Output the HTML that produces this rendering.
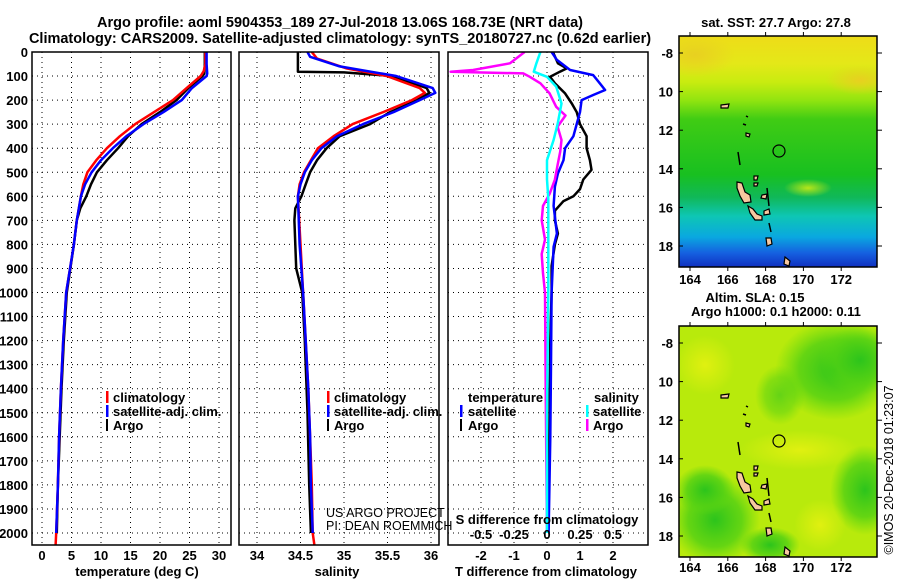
<!DOCTYPE html>
<html><head><meta charset="utf-8">
<style>
html,body{margin:0;padding:0;background:#fff;}
svg{display:block;font-family:"Liberation Sans",sans-serif;}
.lab{font-size:13px;font-weight:bold;fill:#000;}
.ttl{font-size:14.5px;font-weight:bold;fill:#000;}
.grid{stroke:#000;stroke-width:1;stroke-dasharray:1,4;fill:none;}
</style></head>
<body>
<svg id="fig" width="900" height="580" viewBox="0 0 900 580" xmlns="http://www.w3.org/2000/svg">
<defs>
<linearGradient id="sstGrad" x1="0" y1="0" x2="0" y2="1">
<stop offset="0" stop-color="#eedc18"/><stop offset="0.12" stop-color="#e4e818"/>
<stop offset="0.2" stop-color="#c8ec10"/><stop offset="0.28" stop-color="#90e410"/>
<stop offset="0.36" stop-color="#40cc14"/><stop offset="0.6" stop-color="#18c020"/>
<stop offset="0.7" stop-color="#10b85a"/><stop offset="0.78" stop-color="#0ec6b4"/>
<stop offset="0.87" stop-color="#0aa8e0"/><stop offset="0.94" stop-color="#1560e0"/>
<stop offset="1" stop-color="#1030c0"/></linearGradient>
<radialGradient id="yb"><stop offset="0" stop-color="#e0f010"/><stop offset="1" stop-color="#e0f010" stop-opacity="0"/></radialGradient>
<radialGradient id="gb"><stop offset="0" stop-color="#2cc41c"/><stop offset="0.6" stop-color="#50d014" stop-opacity="0.8"/><stop offset="1" stop-color="#60d810" stop-opacity="0"/></radialGradient>
<radialGradient id="ob"><stop offset="0" stop-color="#e8d020"/><stop offset="1" stop-color="#e8d020" stop-opacity="0"/></radialGradient>
<clipPath id="clipTop"><rect x="679" y="36" width="198" height="231"/></clipPath>
<clipPath id="clipBot"><rect x="679" y="326" width="198" height="231"/></clipPath>
<clipPath id="clipT"><rect x="32" y="52" width="199" height="493"/></clipPath>
<clipPath id="clipS"><rect x="239" y="52" width="200" height="493"/></clipPath>
<clipPath id="clipD"><rect x="448" y="52" width="200" height="493"/></clipPath>
</defs>

<text class="ttl" x="340" y="27" text-anchor="middle">Argo profile: aoml 5904353_189 27-Jul-2018 13.06S 168.73E (NRT data)</text>
<text class="ttl" x="340" y="43" text-anchor="middle">Climatology: CARS2009. Satellite-adjusted climatology: synTS_20180727.nc (0.62d earlier)</text>

<g id="gT"></g>
<g id="gS"></g>
<g id="gD"></g>

<g class="lab">
<rect x="106" y="391" width="2.5" height="12" fill="#f00"/><text x="113" y="402">climatology</text>
<rect x="106" y="405" width="2.5" height="12" fill="#00f"/><text x="113" y="416">satellite-adj. clim.</text>
<rect x="106" y="419" width="2" height="12" fill="#000"/><text x="113" y="430">Argo</text>
</g>
<g class="lab">
<rect x="327" y="391" width="2.5" height="12" fill="#f00"/><text x="334" y="402">climatology</text>
<rect x="327" y="405" width="2.5" height="12" fill="#00f"/><text x="334" y="416">satellite-adj. clim.</text>
<rect x="327" y="419" width="2" height="12" fill="#000"/><text x="334" y="430">Argo</text>
</g>
<text x="326" y="517" font-size="12.5" fill="#000">US ARGO PROJECT</text>
<text x="326" y="530" font-size="12.5" fill="#000">PI: DEAN ROEMMICH</text>
<g class="lab">
<text x="468" y="402">temperature</text>
<rect x="460" y="405" width="2.5" height="12" fill="#00f"/><text x="468" y="416">satellite</text>
<rect x="460" y="419" width="2" height="12" fill="#000"/><text x="468" y="430">Argo</text>
<text x="594" y="402">salinity</text>
<rect x="586" y="405" width="2.5" height="12" fill="#0ff"/><text x="593" y="416">satellite</text>
<rect x="586" y="419" width="2.5" height="12" fill="#f0f"/><text x="593" y="430">Argo</text>
</g>

<g>
<text class="lab" x="776" y="27" text-anchor="middle">sat. SST: 27.7 Argo: 27.8</text>
<g clip-path="url(#clipTop)">
<rect x="679" y="36" width="198" height="231" fill="url(#sstGrad)"/>
<ellipse cx="695" cy="55" rx="40" ry="22" fill="url(#ob)"/>
<ellipse cx="860" cy="80" rx="35" ry="15" fill="url(#ob)"/>
<ellipse cx="808" cy="188" rx="24" ry="9" fill="url(#yb)" opacity="0.8"/>
<g id="islTop"></g>
</g>
<rect x="679" y="36" width="198" height="231" fill="none" stroke="#000" stroke-width="1.5"/>
<circle cx="779" cy="151" r="6" fill="none" stroke="#000" stroke-width="1.2"/>
<g id="axTop"></g>
</g>
<g>
<text class="lab" x="755" y="302" text-anchor="middle">Altim. SLA: 0.15</text>
<text class="lab" x="776" y="316" text-anchor="middle">Argo h1000: 0.1 h2000: 0.11</text>
<g clip-path="url(#clipBot)">
<rect x="679" y="326" width="198" height="231" fill="#b8ea0c"/>
<ellipse cx="835" cy="370" rx="60" ry="50" fill="url(#gb)"/>
<ellipse cx="860" cy="360" rx="40" ry="35" fill="url(#gb)"/>
<ellipse cx="780" cy="395" rx="25" ry="30" fill="url(#gb)" opacity="0.6"/>
<ellipse cx="715" cy="520" rx="45" ry="45" fill="url(#gb)"/>
<ellipse cx="705" cy="490" rx="30" ry="25" fill="url(#gb)"/>
<ellipse cx="865" cy="490" rx="35" ry="45" fill="url(#gb)"/>
<ellipse cx="770" cy="545" rx="30" ry="18" fill="url(#gb)"/>
<ellipse cx="820" cy="525" rx="26" ry="26" fill="url(#yb)"/>
<ellipse cx="800" cy="450" rx="60" ry="20" fill="url(#yb)"/>
<ellipse cx="705" cy="365" rx="30" ry="30" fill="url(#yb)"/>
<g id="islBot"></g>
</g>
<rect x="679" y="326" width="198" height="231" fill="none" stroke="#000" stroke-width="1.5"/>
<circle cx="779" cy="441" r="6" fill="none" stroke="#000" stroke-width="1.2"/>
<g id="axBot"></g>
</g>
<text x="893" y="470" font-size="12.5" fill="#000" text-anchor="middle" transform="rotate(-90 893 470)">©IMOS 20-Dec-2018 01:23:07</text>

<script>
const tempClimDepth = [0,50,80,100,150,200,250,300,350,400,450,500,550,600,700,800,1000,1200,1400,1600,1800,2000,2050];
const tempClim      = [27.7,27.7,27.4,26.9,24.5,22.2,19.0,15.8,13.2,11.0,9.2,7.7,7.0,6.6,5.9,5.4,4.1,3.6,3.2,2.9,2.7,2.4,2.3];
const tempSatDepth  = [0,50,90,100,150,200,250,300,350,400,450,500,550,600,700,800,1000,1200,1400,1600,1800,2000];
const tempSat       = [27.9,27.9,28.0,27.9,25.4,23.7,20.6,17.2,14.3,12.0,10.0,8.4,7.3,6.6,5.9,5.4,4.1,3.6,3.2,2.9,2.7,2.4];
const tempArgoDepth = [0,50,90,100,150,200,250,300,350,400,450,500,550,600,650,700,800,1000,1200,1400,1600,1800,2000];
const tempArgo      = [27.6,27.6,27.5,27.2,24.8,22.8,20.0,16.9,14.6,12.9,11.0,9.3,8.3,7.5,6.5,5.9,5.4,4.2,3.7,3.3,3.0,2.7,2.5];
const salClimDepth = [0,27,68,100,150,170,200,250,300,350,400,450,500,550,600,800,1000,1200,1400,1600,1800,2000,2050];
const salClim      = [34.63,34.69,35.03,35.49,35.87,35.93,35.78,35.45,35.10,34.88,34.70,34.62,34.54,34.49,34.47,34.50,34.53,34.56,34.59,34.61,34.63,34.64,34.66];
const salSatDepth  = [0,20,60,100,150,170,200,250,300,350,400,450,500,550,600,800,1000,1200,1400,1600,1800,2000];
const salSat       = [34.58,34.61,34.95,35.60,36.02,36.05,35.87,35.57,35.22,34.92,34.74,34.63,34.55,34.50,34.47,34.49,34.53,34.56,34.59,34.61,34.62,34.64];
const salArgoDepth = [0,82,85,100,150,170,200,250,300,350,400,450,500,550,600,650,700,900,1000,1200,1500,1800,2000];
const salArgo      = [34.47,34.47,35.00,35.56,35.95,35.98,35.84,35.53,35.30,34.95,34.80,34.69,34.61,34.56,34.51,34.44,34.43,34.45,34.52,34.55,34.58,34.60,34.62];
const dTArgoDepth = [0,47,68,82,103,130,172,214,250,300,350,400,450,490,530,570,600,620,660,700,755,800,890,1000,1200,1500,1800,2000];
const dTArgo      = [0.18,0.33,0.6,0.39,0.09,0.24,0.55,0.75,0.9,1.0,1.2,1.2,1.3,1.35,1.1,1.0,0.8,0.5,0.24,0.24,0.33,0.24,0.14,0.14,0.1,0.08,0.05,0.04];
const dTSatDepth  = [0,33,75,96,130,158,179,200,250,300,350,400,450,505,560,640,755,810,1000,1300,1600,2000];
const dTSat       = [0.14,0.3,0.7,1.4,1.6,1.76,1.4,1.05,1.0,0.9,0.8,0.55,0.5,0.33,0.24,0.2,0.3,0.2,0.14,0.12,0.1,0.05];
const dSSatDepth  = [0,47,82,103,144,214,300,366,450,530,610,1000,1500,2000];
const dSSat       = [-0.05,-0.08,-0.1,0.0,0.07,0.11,0.08,0.05,0.0,0.0,0.01,0.01,0.0,0.0];
const dSArgoDepth = [0,47,75,82,89,103,130,172,228,264,310,366,415,470,530,590,640,700,780,840,920,1000,1400,2000];
const dSArgo      = [-0.17,-0.28,-0.56,-0.73,-0.18,-0.13,-0.05,0.02,0.07,0.14,0.08,0.11,0.1,0.08,0.06,0.02,-0.03,-0.04,-0.015,-0.04,-0.03,-0.015,-0.01,0.0];
const depthTicks = [0,100,200,300,400,500,600,700,800,900,1000,1100,1200,1300,1400,1500,1600,1700,1800,1900,2000];
const tempTicks = [0,5,10,15,20,25,30];
const salTicks = [34,34.5,35,35.5,36];
const dTTicks = [-2,-1,0,1,2];
const dSTicks = [-0.5,-0.25,0,0.25,0.5];
const latTicks = [-8,-10,-12,-14,-16,-18];
const lonTicks = [164,166,168,170,172];

const NS = "http://www.w3.org/2000/svg";
const TOP = 52, BOT = 545;
const yD = d => TOP + d * 0.2405;
const xT = t => 42 + t * 5.9;
const xS = s => 257 + (s - 34) * 87;
const xDT = t => 547 + t * 33;
const xDS = s => 547 + s * 132;

function el(tag, attrs, parent) {
  const e = document.createElementNS(NS, tag);
  for (const k in attrs) e.setAttribute(k, attrs[k]);
  parent.appendChild(e);
  return e;
}
function drawLine(parent, vals, depths, xf, color, w, name) {
  let d = "";
  vals.forEach((v, i) => { d += (i ? "L" : "M") + xf(v).toFixed(1) + " " + yD(depths[i]).toFixed(1); });
  const p = el("path", {d: d, stroke: color, "stroke-width": w, fill: "none", "stroke-linejoin": "round"}, parent);
  
  
}
function panel(g, x0, x1, vticks, xf, clip) {
  depthTicks.forEach(d => el("line", {x1: x0, x2: x1, y1: yD(d), y2: yD(d), class: "grid"}, g));
  vticks.forEach(v => el("line", {x1: xf(v), x2: xf(v), y1: TOP, y2: BOT, class: "grid"}, g));
  const body = el("g", {"clip-path": "url(#" + clip + ")"}, g);
  el("rect", {x: x0, y: TOP, width: x1 - x0, height: BOT - TOP, fill: "none", stroke: "#000", "stroke-width": 1.5}, g);
  return body;
}

const gT = document.getElementById("gT");
const bT = panel(gT, 32, 231, tempTicks, xT, "clipT");
drawLine(bT, tempArgo, tempArgoDepth, xT, "#000", 2.5, "temp-argo-line");
drawLine(bT, tempClim, tempClimDepth, xT, "#f00", 2.5, "temp-climatology-line");
drawLine(bT, tempSat, tempSatDepth, xT, "#00f", 2.5, "temp-satellite-line");
depthTicks.forEach(d => {
  const t = el("text", {x: 28, y: yD(d) + 5, "text-anchor": "end", class: "lab"}, gT);
  t.textContent = d;
  
  
});
tempTicks.forEach(v => {
  const t = el("text", {x: xT(v), y: 560, "text-anchor": "middle", class: "lab"}, gT);
  t.textContent = v;
  
  
});
{ const t = el("text", {x: 137, y: 576, "text-anchor": "middle", class: "lab"}, gT);
  t.textContent = "temperature (deg C)";
  
   }

const gS = document.getElementById("gS");
const bS = panel(gS, 239, 439, salTicks, xS, "clipS");
drawLine(bS, salArgo, salArgoDepth, xS, "#000", 2.5, "sal-argo-line");
drawLine(bS, salClim, salClimDepth, xS, "#f00", 2.5, "sal-climatology-line");
drawLine(bS, salSat, salSatDepth, xS, "#00f", 2.5, "sal-satellite-line");
salTicks.forEach(v => {
  const t = el("text", {x: xS(v), y: 560, "text-anchor": "middle", class: "lab"}, gS);
  t.textContent = v;
  
  
});
{ const t = el("text", {x: 337, y: 576, "text-anchor": "middle", class: "lab"}, gS);
  t.textContent = "salinity";
  
   }

const gD = document.getElementById("gD");
const bD = panel(gD, 448, 648, dTTicks, xDT, "clipD");
drawLine(bD, dTArgo, dTArgoDepth, xDT, "#000", 2.5, "dT-argo-line");
drawLine(bD, dTSat, dTSatDepth, xDT, "#00f", 2.5, "dT-satellite-line");
drawLine(bD, dSArgo, dSArgoDepth, xDS, "#f0f", 2.5, "dS-argo-line");
drawLine(bD, dSSat, dSSatDepth, xDS, "#0ff", 2.5, "dS-satellite-line");
dTTicks.forEach(v => {
  const t = el("text", {x: xDT(v), y: 560, "text-anchor": "middle", class: "lab"}, gD);
  t.textContent = v;
  
  
});
dSTicks.forEach(v => {
  const t = el("text", {x: xDS(v), y: 539, "text-anchor": "middle", class: "lab"}, gD);
  t.textContent = v;
  
  
});
{ const t = el("text", {x: 547, y: 524, "text-anchor": "middle", class: "lab"}, gD);
  t.textContent = "S difference from climatology";
  
   }
{ const t = el("text", {x: 546, y: 576, "text-anchor": "middle", class: "lab"}, gD);
  t.textContent = "T difference from climatology";
  
   }

function mapAxes(id, yOff, ylab) {
  const g = document.getElementById(id);
  latTicks.forEach(la => {
    const y = 53 + (-8 - la) * 19.3 + yOff;
    el("line", {x1: 679, x2: 683, y1: y, y2: y, stroke: "#000"}, g);
    el("line", {x1: 877, x2: 882, y1: y, y2: y, stroke: "#000"}, g);
    const t = el("text", {x: 673, y: y + 5, "text-anchor": "end", class: "lab"}, g);
    t.textContent = la === -8 ? "-8" : String(-la);
    
    
  });
  lonTicks.forEach(lo => {
    const x = 690 + (lo - 164) * 18.9;
    el("line", {x1: x, x2: x, y1: 36 + yOff - 4, y2: 36 + yOff, stroke: "#000"}, g);
    el("line", {x1: x, x2: x, y1: 267 + yOff, y2: 267 + yOff + 4, stroke: "#000"}, g);
    const t = el("text", {x: x, y: ylab, "text-anchor": "middle", class: "lab"}, g);
    t.textContent = lo;
    
    
  });
}
mapAxes("axTop", 0, 284);
mapAxes("axBot", 290, 572);

const islandShapes = [
  "M737,182 L742,183 L745,192 L750,195 L751,202 L744,203 L740,196 L737,188Z",
  "M748,206 L753,209 L757,214 L762,216 L762,220 L755,220 L750,213Z",
  "M762,195 L767,194 L766,199 L761,198Z",
  "M764,211 L769,209 L770,214 L764,215Z",
  "M766,238 L771,238 L772,244 L767,246Z",
  "M785,257 L790,261 L789,266 L784,264Z",
  "M721,105 L729,104 L728,108 L721,108Z",
  "M746,133 L750,134 L749,137 L746,136Z",
  "M754,176 L758,176 L757,180 L754,180Z",
  "M754,183 L758,183 L757,186 L754,186Z"
];
const outlines = [
  "M738,152 L740,165", "M767,188 L769,206", "M769,223 L771,232", "M743,124 L746,125", "M746,116 L748,117"
];
["islTop", "islBot"].forEach((id, k) => {
  const g = document.getElementById(id);
  const off = k * 290;
  islandShapes.forEach(d => {
    const p = el("path", {d: d, fill: "#f7c8a0", stroke: "#000", "stroke-width": 1.2, transform: "translate(0," + off + ")"}, g);
    
    
  });
  outlines.forEach(d => el("path", {d: d, stroke: "#000", "stroke-width": 1.5, fill: "none", transform: "translate(0," + off + ")"}, g));
});
</script>
</svg>
</body></html>
